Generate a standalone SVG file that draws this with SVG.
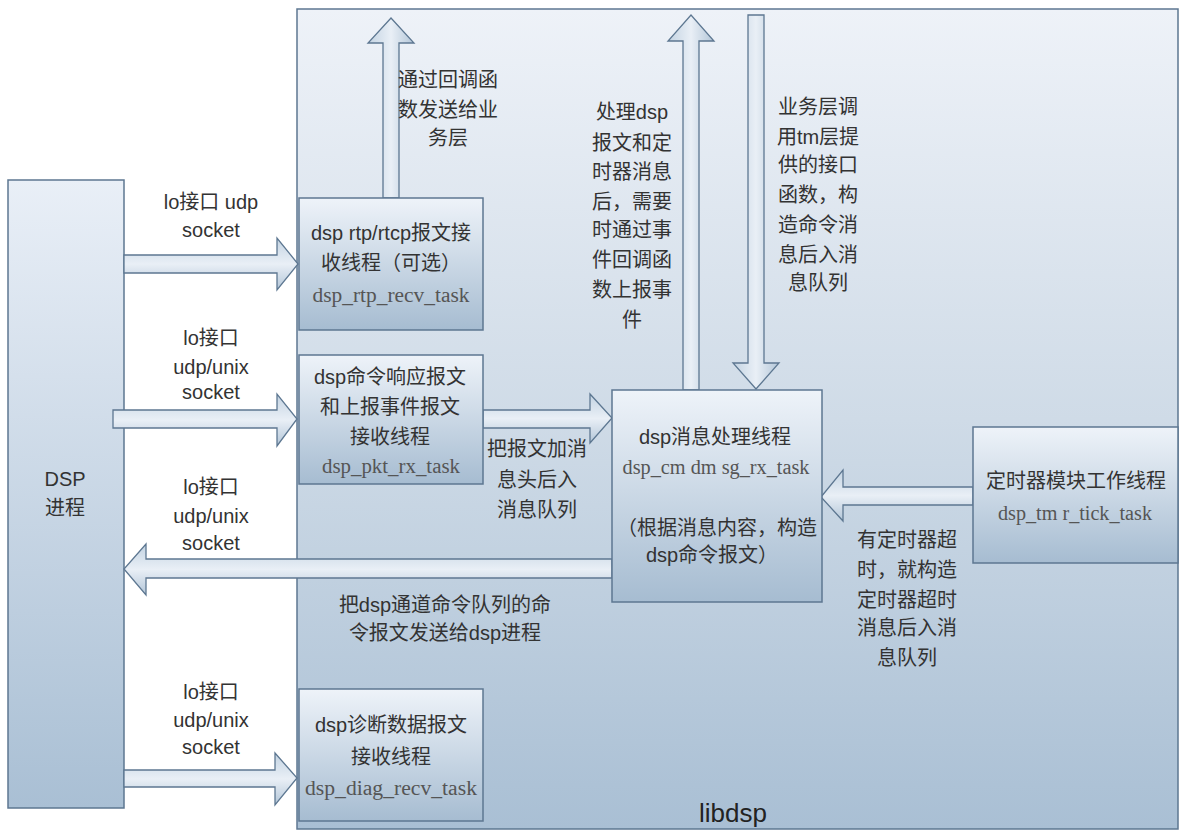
<svg xmlns="http://www.w3.org/2000/svg" width="1187" height="840" viewBox="0 0 1187 840">
<defs>
<linearGradient id="gBig" x1="0" y1="0" x2="0" y2="1"><stop offset="0" stop-color="#eef2f8"/><stop offset="0.5" stop-color="#cfdbe7"/><stop offset="1" stop-color="#a9bfd4"/></linearGradient>
<linearGradient id="gNode" x1="0" y1="0" x2="0" y2="1"><stop offset="0" stop-color="#eef3f9"/><stop offset="1" stop-color="#a6bcd1"/></linearGradient>
<linearGradient id="gDsp" x1="0" y1="0" x2="0" y2="1"><stop offset="0" stop-color="#e9eff7"/><stop offset="1" stop-color="#a9bfd4"/></linearGradient>
<linearGradient id="gArrH" x1="0" y1="0" x2="0" y2="1"><stop offset="0" stop-color="#c3d3e2"/><stop offset="0.5" stop-color="#e9eff6"/><stop offset="1" stop-color="#b3c6d8"/></linearGradient>
<linearGradient id="gArrV" x1="0" y1="0" x2="1" y2="0"><stop offset="0" stop-color="#c3d3e2"/><stop offset="0.5" stop-color="#e9eff6"/><stop offset="1" stop-color="#b3c6d8"/></linearGradient>
</defs>
<style>
.box{stroke:#5d7791;stroke-width:1.5}
.arr{stroke:#5d7791;stroke-width:1.3;stroke-linejoin:miter}
text{font-family:"Liberation Sans","Noto Sans CJK SC",sans-serif;font-size:20px;fill:#333;text-anchor:middle}
.t{font-family:"Liberation Serif","Noto Sans CJK SC",serif;fill:#555}
.big{font-size:26px;fill:#222}
</style>
<rect x="0" y="0" width="1187" height="840" fill="#ffffff"/>
<g id="libdsp">
<rect class="box" x="297" y="9" width="881" height="820" fill="url(#gBig)"/>
<text class="big" x="733" y="822">libdsp</text>
</g>
<g id="dsp-process">
<rect class="box" x="8" y="180" width="116" height="628" fill="url(#gDsp)"/>
<text x="65" y="486">DSP</text>
<text x="65" y="515">进程</text>
</g>
<g id="connectors">
<polygon class="arr" fill="url(#gArrH)" points="124,255 277,255 277,238 298,264 277,290 277,273 124,273"/>
<polygon class="arr" fill="url(#gArrH)" points="113,410 277,410 277,394 297,419 277,446 277,428 113,428"/>
<polygon class="arr" fill="url(#gArrH)" points="124,770 275,770 275,753 297,778 275,805 275,787 124,787"/>
<polygon class="arr" fill="url(#gArrH)" points="483,410 590,410 590,394 612,418 590,443 590,428 483,428"/>
<polygon class="arr" fill="url(#gArrH)" points="612,559 146,559 146,544 124,569 146,595 146,578 612,578"/>
<polygon class="arr" fill="url(#gArrH)" points="973,487 843,487 843,470 821,497 843,521 843,505 973,505"/>
<polygon class="arr" fill="url(#gArrV)" points="383,198 383,43 368,43 391,18 414,43 399,43 399,198"/>
<polygon class="arr" fill="url(#gArrV)" points="683,390 683,41 668,41 691,15 714,41 699,41 699,390"/>
<polygon class="arr" fill="url(#gArrV)" points="748,15 764,15 764,363 779,363 756,389 733,363 748,363"/>
<text x="211" y="209">lo接口 udp</text>
<text x="211" y="237">socket</text>
<text x="211" y="345">lo接口</text>
<text x="211" y="374">udp/unix</text>
<text x="211" y="399">socket</text>
<text x="211" y="494">lo接口</text>
<text x="211" y="523">udp/unix</text>
<text x="211" y="550">socket</text>
<text x="211" y="699">lo接口</text>
<text x="211" y="727">udp/unix</text>
<text x="211" y="754">socket</text>
<text x="448" y="87">通过回调函</text>
<text x="448" y="117">数发送给业</text>
<text x="448" y="145">务层</text>
<text x="632" y="119">处理dsp</text>
<text x="632" y="150">报文和定</text>
<text x="632" y="179">时器消息</text>
<text x="632" y="209">后，需要</text>
<text x="632" y="237">时通过事</text>
<text x="632" y="267">件回调函</text>
<text x="632" y="297">数上报事</text>
<text x="632" y="327">件</text>
<text x="818" y="114">业务层调</text>
<text x="818" y="144">用tm层提</text>
<text x="818" y="172">供的接口</text>
<text x="818" y="202">函数，构</text>
<text x="818" y="232">造命令消</text>
<text x="818" y="262">息后入消</text>
<text x="818" y="290">息队列</text>
<text x="537" y="456">把报文加消</text>
<text x="537" y="487">息头后入</text>
<text x="537" y="517">消息队列</text>
<text x="907" y="547">有定时器超</text>
<text x="907" y="577">时，就构造</text>
<text x="907" y="607">定时器超时</text>
<text x="907" y="635">消息后入消</text>
<text x="907" y="665">息队列</text>
<text x="445" y="612">把dsp通道命令队列的命</text>
<text x="445" y="640">令报文发送给dsp进程</text>
</g>
<g id="rtp-recv">
<rect class="box" x="299" y="198" width="184" height="132" fill="url(#gNode)"/>
<text x="391" y="240">dsp rtp/rtcp报文接</text>
<text x="391" y="270">收线程（可选）</text>
<text class="t" x="391" y="302" textLength="157" lengthAdjust="spacingAndGlyphs">dsp_rtp_recv_task</text>
</g>
<g id="pkt-rx">
<rect class="box" x="299" y="355" width="184" height="129" fill="url(#gNode)"/>
<text x="390" y="384">dsp命令响应报文</text>
<text x="390" y="414">和上报事件报文</text>
<text x="390" y="444">接收线程</text>
<text class="t" x="391" y="473" textLength="138" lengthAdjust="spacingAndGlyphs">dsp_pkt_rx_task</text>
</g>
<g id="cmd-msg">
<rect class="box" x="612" y="390" width="210" height="212" fill="url(#gNode)"/>
<text x="715" y="444">dsp消息处理线程</text>
<text class="t" x="716" y="474" textLength="187" lengthAdjust="spacingAndGlyphs">dsp_cm dm sg_rx_task</text>
<text x="717" y="535">（根据消息内容，构造</text>
<text x="712" y="562">dsp命令报文）</text>
</g>
<g id="timer">
<rect class="box" x="973" y="427" width="205" height="136" fill="url(#gNode)"/>
<text x="1076" y="488">定时器模块工作线程</text>
<text class="t" x="1075" y="520" textLength="154" lengthAdjust="spacingAndGlyphs">dsp_tm r_tick_task</text>
</g>
<g id="diag-recv">
<rect class="box" x="299" y="689" width="184" height="132" fill="url(#gNode)"/>
<text x="391" y="732">dsp诊断数据报文</text>
<text x="391" y="764">接收线程</text>
<text class="t" x="391" y="795" textLength="172" lengthAdjust="spacingAndGlyphs">dsp_diag_recv_task</text>
</g>
</svg>
